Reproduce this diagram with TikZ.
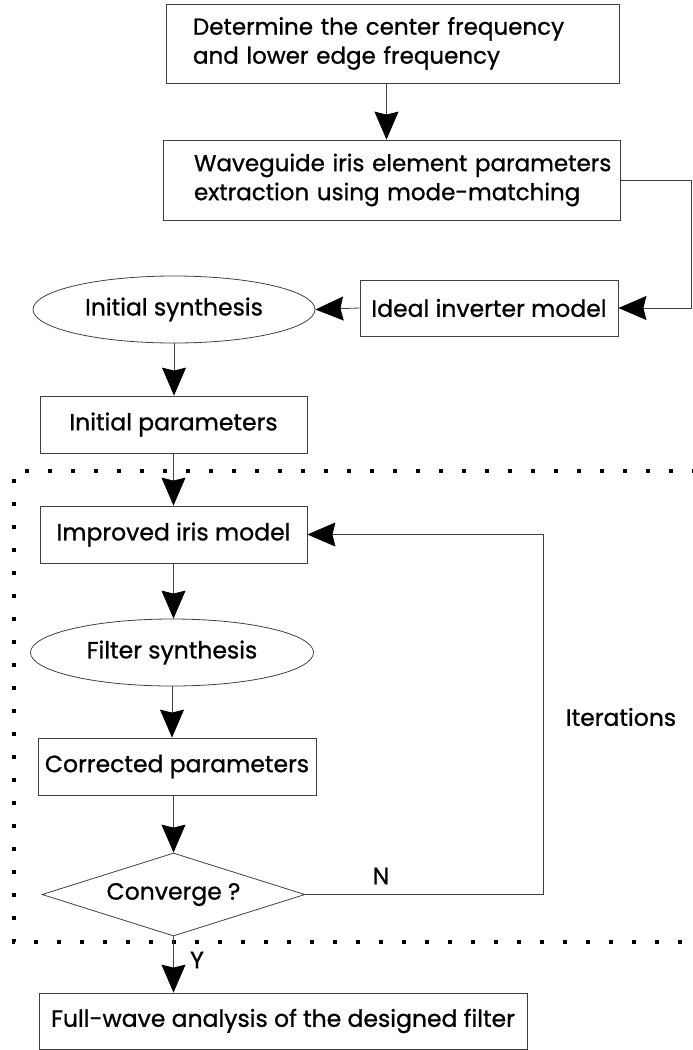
\documentclass[tikz,border=0pt]{standalone}
\usepackage{fontspec}
\setmainfont{Poppins}[FakeBold=0.9]
\usetikzlibrary{arrows.meta,shapes.geometric}
\begin{document}
\begin{tikzpicture}[x=1pt,y=-1pt,
  every node/.style={font=\fontsize{23.5}{29}\selectfont},
  box/.style={draw=black!75, line width=0.8pt, rectangle, inner sep=0pt},
  ell/.style={draw=black!75, line width=0.8pt, ellipse, inner sep=0pt},
  dia/.style={draw=black!75, line width=0.8pt, diamond, aspect=3.17, inner sep=0pt},
  arr/.style={draw=black!75, line width=0.8pt, -{Stealth[length=28pt,width=24pt,inset=3pt,black]}},
  lbl/.style={inner sep=0pt},
  dotted frame/.style={line width=4pt, dash pattern=on 4pt off 19pt}]
\useasboundingbox (0,0) rectangle (693,1050);

\node[box, minimum width=453pt, minimum height=79pt, text width=399pt, align=left, font=\fontsize{23}{29}\selectfont] (b1) at (392.5,43.5)
  {\mbox{Determine the center frequency}\\\mbox{and lower edge frequency}};
\node[box, minimum width=457pt, minimum height=80pt, text width=395pt, align=left, font=\fontsize{23}{29}\selectfont] (b2) at (391.5,180)
  {\mbox{Waveguide iris element parameters}\\\mbox{extraction using mode-matching}};
\node[box, minimum width=258pt, minimum height=56pt] (b3) at (489,308) {Ideal inverter model};
\node[ell, minimum width=282pt, minimum height=67pt] (e1) at (174,309.5) {Initial synthesis};
\node[box, minimum width=267pt, minimum height=57pt] (b4) at (173.5,424.5) {Initial parameters};
\node[box, minimum width=267pt, minimum height=57pt] (b5) at (173.5,534.5) {Improved iris model};
\node[ell, minimum width=283pt, minimum height=67pt] (e2) at (172,652.5) {Filter synthesis};
\node[box, minimum width=278pt, minimum height=57pt] (b6) at (177,766.5) {Corrected parameters};
\node[dia, minimum width=263pt, minimum height=83pt] (d) at (173.5,894.5) {Converge ?};
\node[box, minimum width=488pt, minimum height=56pt] (b7) at (283,1021) {Full-wave analysis of the designed filter};

\node[lbl] (n) at (381,876) {N};
\node[lbl] (y) at (197,960) {Y};
\node[lbl] (it) at (621,717) {Iterations};

\draw[dotted frame] (696,471) -- (14,471) -- (14,942) -- (696,942);

\draw[arr] ([xshift=-6pt]b1.south) -- ([xshift=-6pt]b1.south |- b2.north);
\draw[arr] (b2.east) -- ++(71,0) |- (b3.east);
\draw[arr] (b3.west) -- (e1.east);
\draw[arr] (e1.south) -- (e1.south |- b4.north);
\draw[arr] (b4.south) -- (b5.north);
\draw[arr] (b5.south) -- (b5.south |- e2.north);
\draw[arr] (e2.south) -- (e2.south |- b6.north);
\draw[arr] (d.north |- b6.south) -- (d.north);
\draw[arr] (d.south) -- (d.south |- b7.north);
\draw[arr] (d.east) -- ++(238,0) |- (b5.east);
\end{tikzpicture}
\end{document}
